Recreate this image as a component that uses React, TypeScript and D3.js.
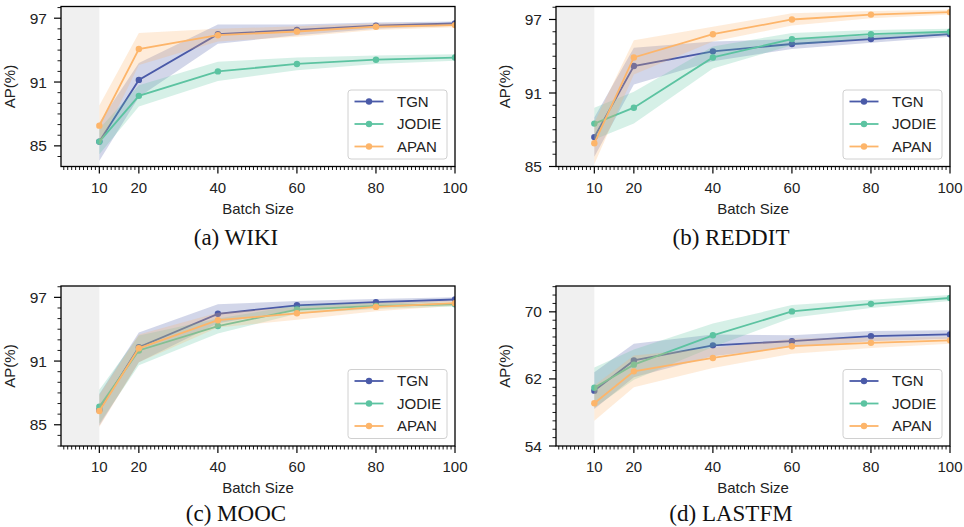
import React from "react";
import * as d3 from "d3";

const batchSizes = [10, 20, 40, 60, 80, 100];
const seriesNames = ["TGN", "JODIE", "APAN"];
const seriesColors = ["#4a5aa8", "#5cc3a1", "#fdb56a"];

// WIKI
const wikiTGN = [85.4, 91.2, 95.5, 95.9, 96.3, 96.5];
const wikiTGNStd = [1.8, 1.6, 0.9, 0.5, 0.3, 0.2];
const wikiJODIE = [85.4, 89.7, 92.0, 92.7, 93.1, 93.3];
const wikiJODIEStd = [1.2, 1.0, 0.9, 0.6, 0.4, 0.3];
const wikiAPAN = [86.9, 94.1, 95.4, 95.75, 96.2, 96.35];
const wikiAPANStd = [1.9, 1.5, 0.6, 0.5, 0.3, 0.2];

// REDDIT
const redditTGN = [87.4, 93.2, 94.4, 95.0, 95.4, 95.8];
const redditTGNStd = [1.6, 1.5, 0.8, 0.4, 0.3, 0.2];
const redditJODIE = [88.5, 89.8, 93.9, 95.4, 95.8, 96.0];
const redditJODIEStd = [1.3, 1.3, 0.9, 0.5, 0.35, 0.25];
const redditAPAN = [86.9, 93.9, 95.8, 97.0, 97.4, 97.6];
const redditAPANStd = [1.7, 1.4, 0.6, 0.5, 0.3, 0.2];

// MOOC
const moocTGN = [86.4, 92.3, 95.45, 96.25, 96.55, 96.8];
const moocTGNStd = [1.5, 1.4, 0.9, 0.4, 0.3, 0.2];
const moocJODIE = [86.7, 92.0, 94.3, 95.85, 96.2, 96.35];
const moocJODIEStd = [1.6, 1.4, 0.7, 0.4, 0.3, 0.2];
const moocAPAN = [86.3, 92.2, 94.85, 95.5, 96.1, 96.45];
const moocAPANStd = [1.5, 1.3, 0.7, 0.6, 0.4, 0.25];

// LASTFM
const lastfmTGN = [60.6, 64.2, 66.0, 66.5, 67.1, 67.3];
const lastfmTGNStd = [2.2, 2.0, 1.3, 0.7, 0.6, 0.5];
const lastfmJODIE = [60.95, 63.7, 67.2, 70.05, 70.95, 71.65];
const lastfmJODIEStd = [2.4, 1.8, 1.4, 0.75, 0.5, 0.35];
const lastfmAPAN = [59.1, 62.9, 64.5, 65.9, 66.3, 66.6];
const lastfmAPANStd = [2.1, 1.9, 1.2, 0.9, 0.6, 0.4];

const wikiTicks = [85, 91, 97];
const redditTicks = [85, 91, 97];
const moocTicks = [85, 91, 97];
const lastfmTicks = [54, 62, 70];
const xTicks = [10, 20, 40, 60, 80, 100];

const captions = ["(a) WIKI", "(b) REDDIT", "(c) MOOC", "(d) LASTFM"];

const panels = [
  {
    caption: captions[0],
    means: [wikiTGN, wikiJODIE, wikiAPAN],
    stds: [wikiTGNStd, wikiJODIEStd, wikiAPANStd],
    yDomain: [83.06, 98.1],
    yTicks: wikiTicks,
    left: 61, top: 6.5, capDy: 78.5,
  },
  {
    caption: captions[1],
    means: [redditTGN, redditJODIE, redditAPAN],
    stds: [redditTGNStd, redditJODIEStd, redditAPANStd],
    yDomain: [85, 98.06],
    yTicks: redditTicks,
    left: 556, top: 6.5, capDy: 78.5,
  },
  {
    caption: captions[2],
    means: [moocTGN, moocJODIE, moocAPAN],
    stds: [moocTGNStd, moocJODIEStd, moocAPANStd],
    yDomain: [83.0, 98.07],
    yTicks: moocTicks,
    left: 61, top: 286, capDy: 74.5,
  },
  {
    caption: captions[3],
    means: [lastfmTGN, lastfmJODIE, lastfmAPAN],
    stds: [lastfmTGNStd, lastfmJODIEStd, lastfmAPANStd],
    yDomain: [54, 73.08],
    yTicks: lastfmTicks,
    left: 556, top: 286, capDy: 74.5,
  },
];

const W = 394;
const H = 160;
const sans = "'Liberation Sans', Arial, sans-serif";
const serif = "'Liberation Serif', 'Times New Roman', serif";

function Panel({ p }: { p: any }) {
  const x = d3.scaleLinear().domain([0.3, 100]).range([0, W]);
  const y = d3.scaleLinear().domain(p.yDomain).range([H, 0]);
  const line = d3
    .line<number>()
    .x((_, i) => x(batchSizes[i]))
    .y((v) => y(v));
  const area = (m: number[], s: number[]) =>
    d3
      .area<number>()
      .x((_, i) => x(batchSizes[i]))
      .y0((v, i) => y(v - s[i]))
      .y1((v, i) => y(v + s[i]))(m) as string;
  const minorX = d3.range(1, 101).filter((v) => !xTicks.includes(v));
  const minorY = d3
    .range(Math.ceil(p.yDomain[0]), Math.floor(p.yDomain[1]) + 1)
    .filter((v) => !p.yTicks.includes(v));
  const clipId = "clip" + p.left + "_" + p.top;
  const legX = W - 8 - 99;
  const legY = H - 7.5 - 69;
  return (
    <g transform={`translate(${p.left},${p.top})`}>
      <defs>
        <clipPath id={clipId}>
          <rect x={0} y={0} width={W} height={H} />
        </clipPath>
      </defs>
      <rect x={0} y={0} width={x(10)} height={H} fill="#f0f0f0" />
      <g clipPath={`url(#${clipId})`}>
        {p.means.map((m: number[], k: number) => (
          <g key={k}>
            <path d={area(m, p.stds[k])} fill={seriesColors[k]} fillOpacity={0.25} stroke="none" />
            <path d={line(m) as string} fill="none" stroke={seriesColors[k]} strokeWidth={1.8} />
            {m.map((v, i) => (
              <circle key={i} cx={x(batchSizes[i])} cy={y(v)} r={3.2} fill={seriesColors[k]} />
            ))}
          </g>
        ))}
      </g>
      <rect x={0} y={0} width={W} height={H} fill="none" stroke="#000" strokeWidth={1.3} />
      {minorX.map((v) => (
        <line key={"mx" + v} x1={x(v)} x2={x(v)} y1={H} y2={H + 3.5} stroke="#000" strokeWidth={0.9} />
      ))}
      {xTicks.map((v) => (
        <g key={"x" + v}>
          <line x1={x(v)} x2={x(v)} y1={H} y2={H + 7} stroke="#000" strokeWidth={1.2} />
          <text x={x(v)} y={H + 26} textAnchor="middle" fontFamily={sans} fontSize={15} fill="#222">
            {v}
          </text>
        </g>
      ))}
      {minorY.map((v) => (
        <line key={"my" + v} x1={-3.5} x2={0} y1={y(v)} y2={y(v)} stroke="#000" strokeWidth={0.9} />
      ))}
      {p.yTicks.map((v: number) => (
        <g key={"y" + v}>
          <line x1={-7} x2={0} y1={y(v)} y2={y(v)} stroke="#000" strokeWidth={1.2} />
          <text x={-14} y={y(v)} dy="0.36em" textAnchor="end" fontFamily={sans} fontSize={15.5} fill="#222">
            {v}
          </text>
        </g>
      ))}
      <text x={W / 2} y={H + 47} textAnchor="middle" fontFamily={sans} fontSize={15} fill="#222">
        Batch Size
      </text>
      <text
        transform={`translate(${-46},${H / 2}) rotate(-90)`}
        textAnchor="middle"
        fontFamily={sans}
        fontSize={15}
        fill="#222"
      >
        AP(%)
      </text>
      <g transform={`translate(${legX},${legY})`}>
        <rect x={0} y={0} width={99} height={69} rx={3} fill="#fff" fillOpacity={0.8} stroke="#d0d0d0" strokeWidth={1} />
        {seriesNames.map((n, k) => (
          <g key={n} transform={`translate(0,${11.5 + k * 22.5})`}>
            <line x1={6.5} x2={35.5} y1={0} y2={0} stroke={seriesColors[k]} strokeWidth={1.8} />
            <circle cx={21} cy={0} r={3.2} fill={seriesColors[k]} />
            <text x={49} y={0} dy="0.36em" fontFamily={sans} fontSize={15} fill="#222">
              {n}
            </text>
          </g>
        ))}
      </g>
      <text x={W / 2 - 22} y={H + p.capDy} textAnchor="middle" fontFamily={serif} fontSize={23} fill="#111">
        {p.caption}
      </text>
    </g>
  );
}

export default function App() {
  return (
    <svg
      width={964}
      height={527}
      style={{ position: "absolute", left: 0, top: 0, background: "#fff" }}
    >
      <rect width={964} height={527} fill="#fff" />
      {panels.map((p, i) => (
        <Panel key={i} p={p} />
      ))}
    </svg>
  );
}
